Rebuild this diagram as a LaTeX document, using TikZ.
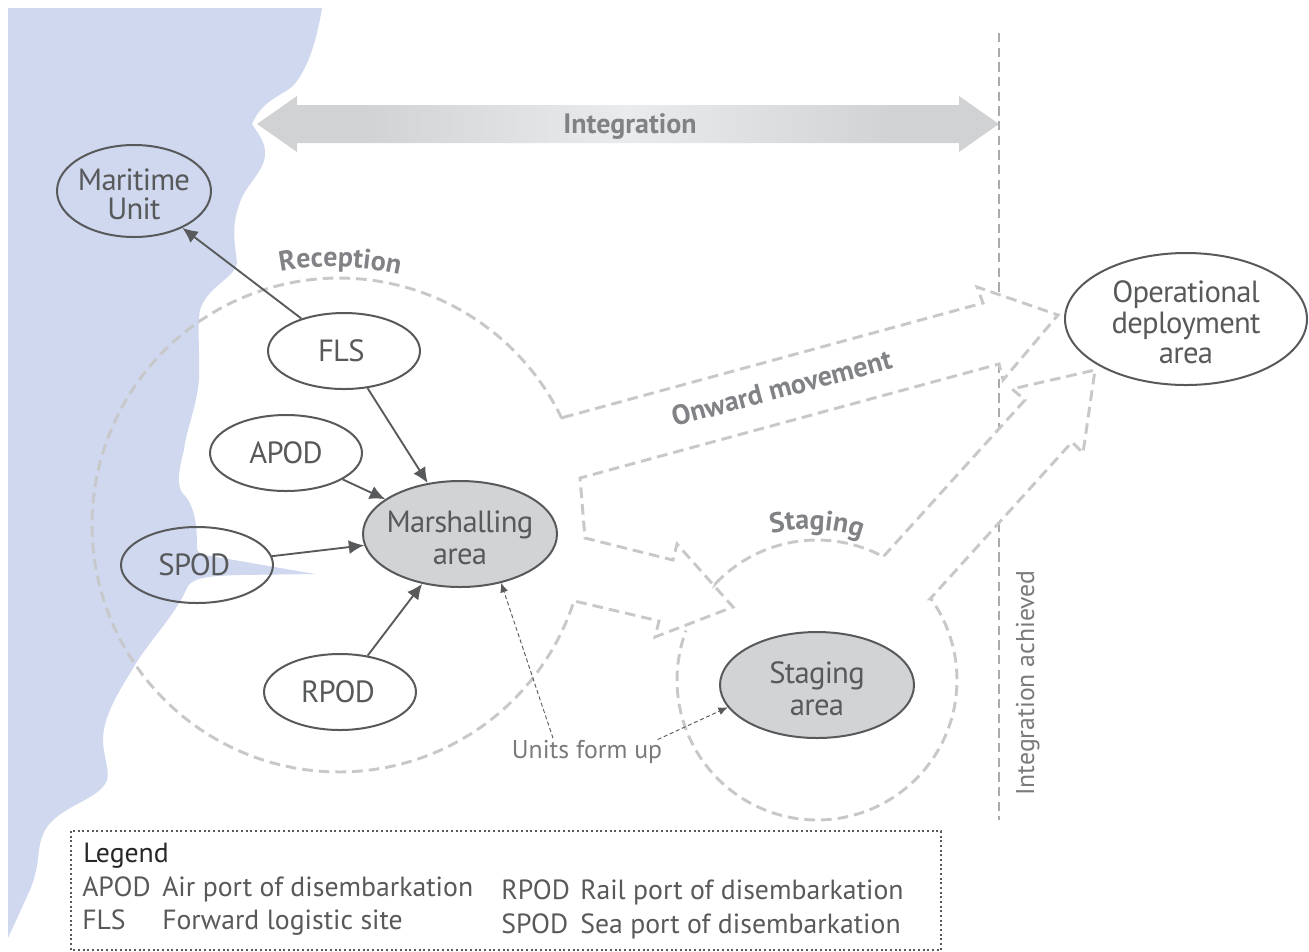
\documentclass[tikz,border=0pt]{standalone}
\usepackage{fontspec}
\setmainfont{PT Sans}
\newfontfamily\nodefont[LetterSpace=-2.4]{PT Sans}
\usetikzlibrary{arrows.meta,shapes.geometric,decorations.text}
\definecolor{seablue}{HTML}{CFD8EE}
\definecolor{inkgray}{HTML}{58595B}
\definecolor{labgray}{HTML}{808285}
\definecolor{dashgray}{HTML}{C7C8CA}
\definecolor{fillgray}{HTML}{D1D3D4}
\definecolor{shadeA}{HTML}{D1D2D4}
\definecolor{shadeB}{HTML}{EAEBEC}
\pgfdeclarehorizontalshading{integshade}{100bp}{color(0bp)=(shadeA); color(25bp)=(shadeA); color(32bp)=(shadeA); color(50bp)=(shadeB); color(68bp)=(shadeA); color(75bp)=(shadeA); color(100bp)=(shadeA)}
\newcommand{\dn}{\rule{0pt}{21.5pt}}
\tikzset{
  x=0.75pt,y=-0.75pt,
  place/.style={ellipse,draw=inkgray,line width=1.5pt,inner sep=-25pt,text=inkgray,font=\nodefont\fontsize{23}{23}\selectfont,align=center,minimum width=114pt,minimum height=57pt},
  bigplace/.style={place,minimum width=145.5pt,minimum height=79.5pt,fill=fillgray},
  link/.style={draw=inkgray,line width=1.4pt,-{Latex[length=11.5pt,width=10.5pt]}},
  hint/.style={draw=inkgray,line width=0.7pt,dash pattern=on 3pt off 2pt,-{Latex[length=7pt,width=6pt]}},
  flow/.style={draw=dashgray,line width=2.2pt,dash pattern=on 8pt off 4.5pt},
  gate/.style={draw=dashgray!85!black,line width=1.5pt,dash pattern=on 7pt off 4pt},
  boldlabel/.style={text=labgray,font=\fontsize{21}{24}\selectfont\bfseries,inner sep=0pt,anchor=base},
  legtext/.style={text=inkgray,font=\fontsize{20.8}{24}\selectfont,anchor=base west,inner sep=0pt},
  thinlabel/.style={text=inkgray!80,font=\fontsize{19.3}{24}\selectfont,inner sep=0pt,anchor=base}
}
\begin{document}
\begin{tikzpicture}
\useasboundingbox (0,0) rectangle (1309,951);
% sea
\fill[seablue] (8,8) -- (322,8)
  .. controls (315,50) and (305,72) .. (293,86)
  .. controls (283,95) and (262,100) .. (252,124)
  .. controls (258,134) and (266,142) .. (265,155)
  .. controls (264,172) and (245,185) .. (239,205)
  .. controls (232,225) and (234,240) .. (237,262)
  .. controls (236,278) and (208,285) .. (200,310)
  .. controls (197,330) and (200,350) .. (199,380)
  .. controls (196,410) and (186,430) .. (184,450)
  .. controls (176,480) and (178,490) .. (186,497)
  .. controls (196,510) and (197,530) .. (197,548)
  .. controls (197,552) and (200,553) .. (205,555)
  -- (315,574) -- (240,575)
  .. controls (205,576) and (190,578) .. (186,590)
  .. controls (175,615) and (150,640) .. (135,665)
  .. controls (120,690) and (103,715) .. (103,740)
  .. controls (103,755) and (110,770) .. (107,780)
  .. controls (100,800) and (60,805) .. (45,830)
  .. controls (35,850) and (42,860) .. (30,890)
  -- (8,938) -- cycle;
% integration arrow
\shade[shading=integshade] (257,124) -- (297,96) -- (297,105) -- (959,105) -- (959,96) -- (999,124) -- (959,152) -- (959,143) -- (297,143) -- (297,152) -- cycle;
\node[boldlabel] (integ) at (630,133) {Integration};
% reference lines
\coordinate (lineA) at (999,33);
\coordinate (lineB) at (999,294);
\coordinate (lineC) at (999,364);
\coordinate (lineD) at (999,427);
\coordinate (lineE) at (999,523);
\coordinate (lineF) at (999,820);
\draw[gate] (lineA) -- (lineB);
\draw[gate] (lineC) -- (lineD);
\draw[gate] (lineE) -- (lineF);
% reception / onward outline
\draw[flow] (561,418) -- plot[domain=-25.7:-342.1,samples=120] ({339+247*cos(\x)},{525+247*sin(\x)})
  -- (659,621) -- (655,637) -- (733,607) -- (677,544) -- (673,560) -- (585,538) -- (580,478)
  -- (999,364) -- (1003,380) -- (1058,315) -- (977,287) -- (983,303) -- cycle;
% staging outline
\draw[flow] (716,583) -- plot[domain=-136.2:-61.8,samples=40] ({817+140*cos(\x)},{680+140*sin(\x)})
  -- (883,557) -- (1025,400) -- (1012,389) -- (1095,370) -- (1083,453) -- (1072,442) -- (930,599)
  -- plot[domain=-35.3:200.7,samples=100] ({817+140*cos(\x)},{680+140*sin(\x)});
% nodes
\node[place,minimum width=115.5pt,minimum height=69pt] (maritime) at (134,191) {\dn Maritime\\[-1pt]Unit};
\node[place] (fls) at (344,351) {\kern-4pt FLS};
\node[place] (apod) at (286,453) {APOD};
\node[place] (spod) at (197,565) {\kern-4pt SPOD};
\node[place] (rpod) at (340,692) {\kern-3pt RPOD};
\node[bigplace] (marsh) at (460,534) {\dn Marshalling\\[1pt]area};
\node[bigplace] (staging) at (817,685) {\dn Staging\\[1pt]area};
\node[place,minimum width=181.5pt,minimum height=99pt] (opdep) at (1186,319) {\dn Operational\\deployment\\area};
% links
\draw[link] (fls) -- (maritime);
\draw[link] (fls) -- (marsh);
\draw[link] (apod) -- (marsh);
\draw[link] (spod) -- (marsh);
\draw[link] (rpod) -- (marsh);
% labels
\node[thinlabel] (units) at (587,758) {Units form up};
\draw[hint] ([xshift=-25.5pt,yshift=1pt]units.north) -- (marsh.-50);
\draw[hint] ([xshift=53pt]units.north) -- (staging.194);
\node[boldlabel,rotate=15] (onward) at (784,397.5) {Onward movement};
\node[thinlabel,rotate=90] (achieved) at (1034,683) {Integration achieved};
\path[postaction={decorate,decoration={text along path,text align=center,text={|\fontsize{21}{24}\selectfont\bfseries\color{labgray}|Reception}}}] (270,274) .. controls (310,264) and (360,264) .. (410,277);
\path[postaction={decorate,decoration={text along path,text align=center,text={|\fontsize{21}{24}\selectfont\bfseries\color{labgray}|Staging}}}] (760,537) .. controls (790,526) and (840,526) .. (872,543);
% legend
\draw[draw=inkgray,line width=0.8pt,dash pattern=on 1.5pt off 2pt] (71,831) rectangle (941,950);
\node[legtext,text=black!85] (leg) at (83,862) {Legend};
\node[legtext] (l1a) at (82,896) {APOD};
\node[legtext] (l1b) at (162,896) {Air port of disembarkation};
\node[legtext] (l2a) at (82,929) {FLS};
\node[legtext] (l2b) at (162,929) {Forward logistic site};
\node[legtext] (l3a) at (501,899) {RPOD};
\node[legtext] (l3b) at (580,899) {Rail port of disembarkation};
\node[legtext] (l4a) at (501,933) {SPOD};
\node[legtext] (l4b) at (580,933) {Sea port of disembarkation};
\end{tikzpicture}
\end{document}
